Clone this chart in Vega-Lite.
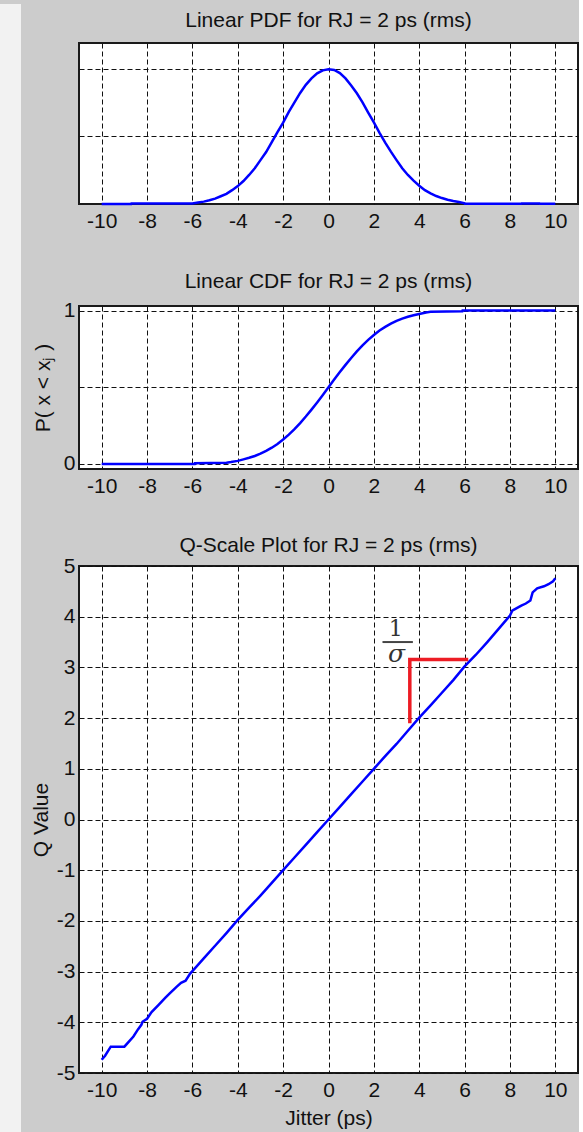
{
  "$schema": "https://vega.github.io/schema/vega-lite/v6.json",
  "background": "#cccccc",
  "padding": {"left": 0, "top": 4, "right": 0, "bottom": 0},
  "config": {
    "font": "Liberation Sans",
    "view": {"stroke": "#1a1a1a", "strokeWidth": 2, "fill": "white"},
    "title": {"fontSize": 21, "fontWeight": "normal", "font": "Liberation Sans", "color": "#111111", "anchor": "middle", "frame": "group"},
    "axis": {
      "labelFont": "Liberation Sans", "labelFontSize": 21, "labelColor": "#111111",
      "titleFont": "Liberation Sans", "titleFontSize": 21, "titleFontWeight": "normal", "titleColor": "#111111",
      "ticks": false, "domain": false, "grid": true, "gridColor": "#111111", "gridDash": [5, 3],
      "gridWidth": 1, "gridOpacity": 1, "labelPadding": 6, "labelFlush": false, "labelOverlap": false
    },
    "axisY": {"labelPadding": 4}
  },
  "datasets": {
    "pdf": [
      {"x": -10, "v": 0}, {"x": -8.7, "v": 0}, {"x": -8.69, "v": 0.0006}, {"x": -6.0, "v": 0.0006},
      {"x": -5.75, "v": 0.0022}, {"x": -5.5, "v": 0.0035}, {"x": -5.25, "v": 0.0055}, {"x": -5.0, "v": 0.008},
      {"x": -4.75, "v": 0.0115}, {"x": -4.5, "v": 0.015}, {"x": -4.25, "v": 0.0205}, {"x": -4.0, "v": 0.0265},
      {"x": -3.75, "v": 0.034}, {"x": -3.5, "v": 0.043}, {"x": -3.25, "v": 0.053}, {"x": -3.0, "v": 0.065},
      {"x": -2.75, "v": 0.077}, {"x": -2.5, "v": 0.0915}, {"x": -2.25, "v": 0.1065}, {"x": -2.0, "v": 0.1205},
      {"x": -1.75, "v": 0.1365}, {"x": -1.5, "v": 0.1505}, {"x": -1.25, "v": 0.1645}, {"x": -1.0, "v": 0.1765},
      {"x": -0.75, "v": 0.186}, {"x": -0.5, "v": 0.1935}, {"x": -0.25, "v": 0.198}, {"x": 0, "v": 0.1995},
      {"x": 0.25, "v": 0.1985}, {"x": 0.5, "v": 0.194}, {"x": 0.75, "v": 0.186}, {"x": 1.0, "v": 0.1755},
      {"x": 1.25, "v": 0.164}, {"x": 1.5, "v": 0.1505}, {"x": 1.75, "v": 0.1355}, {"x": 2.0, "v": 0.121},
      {"x": 2.25, "v": 0.1055}, {"x": 2.5, "v": 0.091}, {"x": 2.75, "v": 0.0775}, {"x": 3.0, "v": 0.065},
      {"x": 3.25, "v": 0.053}, {"x": 3.5, "v": 0.043}, {"x": 3.75, "v": 0.0345}, {"x": 4.0, "v": 0.027},
      {"x": 4.25, "v": 0.0205}, {"x": 4.5, "v": 0.0158}, {"x": 4.75, "v": 0.0118}, {"x": 5.0, "v": 0.0088},
      {"x": 5.25, "v": 0.0062}, {"x": 5.5, "v": 0.0045}, {"x": 5.75, "v": 0.003}, {"x": 6.0, "v": 0.001},
      {"x": 6.01, "v": 0.0004}, {"x": 8.5, "v": 0.0004}, {"x": 8.51, "v": 0.0006}, {"x": 9.3, "v": 0.0006},
      {"x": 9.31, "v": 0.0002}, {"x": 10, "v": 0.0002}
    ],
    "cdf": [
      {"x": -10, "v": 0}, {"x": -5.9, "v": 0}, {"x": -5.89, "v": 0.004}, {"x": -4.5, "v": 0.008},
      {"x": -4.3, "v": 0.012}, {"x": -4.0, "v": 0.02}, {"x": -3.75, "v": 0.03}, {"x": -3.5, "v": 0.04},
      {"x": -3.25, "v": 0.052}, {"x": -3.0, "v": 0.067}, {"x": -2.75, "v": 0.085}, {"x": -2.5, "v": 0.106},
      {"x": -2.25, "v": 0.13}, {"x": -2.0, "v": 0.159}, {"x": -1.75, "v": 0.191}, {"x": -1.5, "v": 0.227},
      {"x": -1.25, "v": 0.266}, {"x": -1.0, "v": 0.309}, {"x": -0.75, "v": 0.354}, {"x": -0.5, "v": 0.401},
      {"x": -0.25, "v": 0.45}, {"x": 0, "v": 0.5}, {"x": 0.25, "v": 0.55}, {"x": 0.5, "v": 0.599},
      {"x": 0.75, "v": 0.646}, {"x": 1.0, "v": 0.691}, {"x": 1.25, "v": 0.734}, {"x": 1.5, "v": 0.773},
      {"x": 1.75, "v": 0.809}, {"x": 2.0, "v": 0.841}, {"x": 2.25, "v": 0.87}, {"x": 2.5, "v": 0.894},
      {"x": 2.75, "v": 0.915}, {"x": 3.0, "v": 0.933}, {"x": 3.25, "v": 0.948}, {"x": 3.5, "v": 0.96},
      {"x": 3.75, "v": 0.97}, {"x": 4.0, "v": 0.978}, {"x": 4.3, "v": 0.988}, {"x": 4.5, "v": 0.992},
      {"x": 5.9, "v": 0.996}, {"x": 5.91, "v": 1.0}, {"x": 10, "v": 1.0}
    ],
    "q": [
      {"x": -10.0, "v": -4.74}, {"x": -9.85, "v": -4.66}, {"x": -9.6, "v": -4.48}, {"x": -9.0, "v": -4.48},
      {"x": -8.8, "v": -4.38}, {"x": -8.6, "v": -4.28}, {"x": -8.4, "v": -4.14}, {"x": -8.25, "v": -4.05},
      {"x": -8.2, "v": -3.99}, {"x": -8.0, "v": -3.93}, {"x": -7.8, "v": -3.8}, {"x": -7.5, "v": -3.66},
      {"x": -7.2, "v": -3.52}, {"x": -7.0, "v": -3.43}, {"x": -6.7, "v": -3.3}, {"x": -6.5, "v": -3.22},
      {"x": -6.3, "v": -3.18}, {"x": -6.1, "v": -3.04}, {"x": -6.0, "v": -2.99}, {"x": -5.5, "v": -2.74},
      {"x": -5.0, "v": -2.49}, {"x": -4.5, "v": -2.24}, {"x": -4.0, "v": -1.98}, {"x": -3.5, "v": -1.74},
      {"x": -3.0, "v": -1.5}, {"x": -2.5, "v": -1.25}, {"x": -2.0, "v": -1.0}, {"x": -1.5, "v": -0.75},
      {"x": -1.0, "v": -0.5}, {"x": -0.5, "v": -0.25}, {"x": 0, "v": 0}, {"x": 0.5, "v": 0.25},
      {"x": 1.0, "v": 0.5}, {"x": 1.5, "v": 0.75}, {"x": 2.0, "v": 1.0}, {"x": 2.5, "v": 1.25},
      {"x": 3.0, "v": 1.49}, {"x": 3.5, "v": 1.75}, {"x": 4.0, "v": 2.01}, {"x": 4.5, "v": 2.25},
      {"x": 5.0, "v": 2.5}, {"x": 5.5, "v": 2.75}, {"x": 6.0, "v": 3.02}, {"x": 6.5, "v": 3.25},
      {"x": 7.0, "v": 3.5}, {"x": 7.5, "v": 3.76}, {"x": 8.0, "v": 4.02}, {"x": 8.1, "v": 4.12},
      {"x": 8.3, "v": 4.17}, {"x": 8.5, "v": 4.22}, {"x": 8.7, "v": 4.26}, {"x": 8.9, "v": 4.32},
      {"x": 9.0, "v": 4.48}, {"x": 9.2, "v": 4.56}, {"x": 9.5, "v": 4.6}, {"x": 9.7, "v": 4.64},
      {"x": 9.9, "v": 4.7}, {"x": 10.0, "v": 4.76}
    ],
    "red": [
      {"x": 3.585, "v": 1.9, "o": 1}, {"x": 3.585, "v": 3.157, "o": 2}, {"x": 6.16, "v": 3.157, "o": 3}
    ],
    "bar": [{"x": 2.38, "x2": 3.72, "v": 3.5}],
    "one": [{"x": 2.97, "v": 3.75, "t": "1"}],
    "sigma": [{"x": 3.0, "v": 3.27, "t": "σ"}]
  },
  "hconcat": [
    {
      "width": 21, "height": 1089,
      "view": {"fill": null, "stroke": null},
      "data": {"values": [{}]},
      "mark": {"type": "rect", "color": "#f2f2f2"},
      "encoding": {
        "x": {"datum": 0, "type": "quantitative", "scale": {"domain": [0, 1], "range": [0, 21]}, "axis": null},
        "x2": {"datum": 1},
        "y": {"datum": 0, "type": "quantitative", "scale": {"domain": [0, 1], "range": [1089, -39]}, "axis": null},
        "y2": {"datum": 1}
      }
    },
    {
      "spacing": 37,
      "vconcat": [
        {
          "width": 499, "height": 161,
          "title": {"text": "Linear PDF for RJ = 2 ps (rms)", "offset": 12},
          "data": {"name": "pdf"},
          "mark": {"type": "line", "color": "#0000ff", "strokeWidth": 2.5},
          "encoding": {
            "x": {"field": "x", "type": "quantitative", "scale": {"domain": [-11, 11], "nice": false, "zero": false},
                  "axis": {"values": [-10, -8, -6, -4, -2, 0, 2, 4, 6, 8, 10], "labelExpr": "'' + datum.value", "title": null}},
            "y": {"field": "v", "type": "quantitative", "scale": {"domain": [0, 0.2385], "nice": false},
                  "axis": {"values": [0.1, 0.2], "labels": false, "title": null}}
          }
        },
        {
          "width": 499, "height": 163,
          "title": {"text": "Linear CDF for RJ = 2 ps (rms)", "offset": 8},
          "data": {"name": "cdf"},
          "mark": {"type": "line", "color": "#0000ff", "strokeWidth": 2.5},
          "encoding": {
            "x": {"field": "x", "type": "quantitative", "scale": {"domain": [-11, 11], "nice": false, "zero": false},
                  "axis": {"values": [-10, -8, -6, -4, -2, 0, 2, 4, 6, 8, 10], "labelExpr": "'' + datum.value", "title": null}},
            "y": {"field": "v", "type": "quantitative", "scale": {"domain": [-0.033, 1.03], "nice": false, "zero": false},
                  "axis": {"values": [0, 0.5, 1], "labelExpr": "datum.value == 0.5 ? '' : '' + datum.value", "title": "P( x < xⱼ )", "titlePadding": 10}}
          }
        },
        {
          "width": 499, "height": 507,
          "title": {"text": "Q-Scale Plot for RJ = 2 ps (rms)", "offset": -1},
          "encoding": {
            "x": {"field": "x", "type": "quantitative", "scale": {"domain": [-11, 11], "nice": false, "zero": false},
                  "axis": {"values": [-10, -8, -6, -4, -2, 0, 2, 4, 6, 8, 10], "labelExpr": "'' + datum.value", "title": "Jitter (ps)", "titlePadding": 7}},
            "y": {"field": "v", "type": "quantitative", "scale": {"domain": [-5, 5], "nice": false, "zero": false},
                  "axis": {"values": [-5, -4, -3, -2, -1, 0, 1, 2, 3, 4, 5], "labelExpr": "'' + datum.value", "title": "Q Value", "titlePadding": 5}}
          },
          "layer": [
            {"data": {"values": [{}]}, "mark": {"type": "rule", "color": "#000000", "strokeWidth": 1.5}, "encoding": {"x": {"datum": 0}, "y": null}},
            {"data": {"values": [{}]}, "mark": {"type": "rule", "color": "#000000", "strokeWidth": 1.5}, "encoding": {"y": {"datum": 0}, "x": null}},
            {"data": {"name": "q"}, "mark": {"type": "line", "color": "#0000ff", "strokeWidth": 2.5}},
            {"data": {"name": "red"}, "mark": {"type": "line", "color": "#ed1c24", "strokeWidth": 3.5, "strokeJoin": "miter", "strokeCap": "butt"},
             "encoding": {"order": {"field": "o", "type": "quantitative"}}},
            {"data": {"name": "bar"}, "mark": {"type": "rule", "color": "#444444", "strokeWidth": 2},
             "encoding": {"x2": {"field": "x2"}}},
            {"data": {"name": "one"}, "mark": {"type": "text", "font": "DejaVu Serif", "fontSize": 22, "color": "#333333"},
             "encoding": {"text": {"field": "t"}}},
            {"data": {"name": "sigma"}, "mark": {"type": "text", "font": "DejaVu Serif", "fontSize": 25, "fontStyle": "italic", "color": "#333333"},
             "encoding": {"text": {"field": "t"}}}
          ]
        }
      ]
    }
  ],
  "spacing": 8
}
